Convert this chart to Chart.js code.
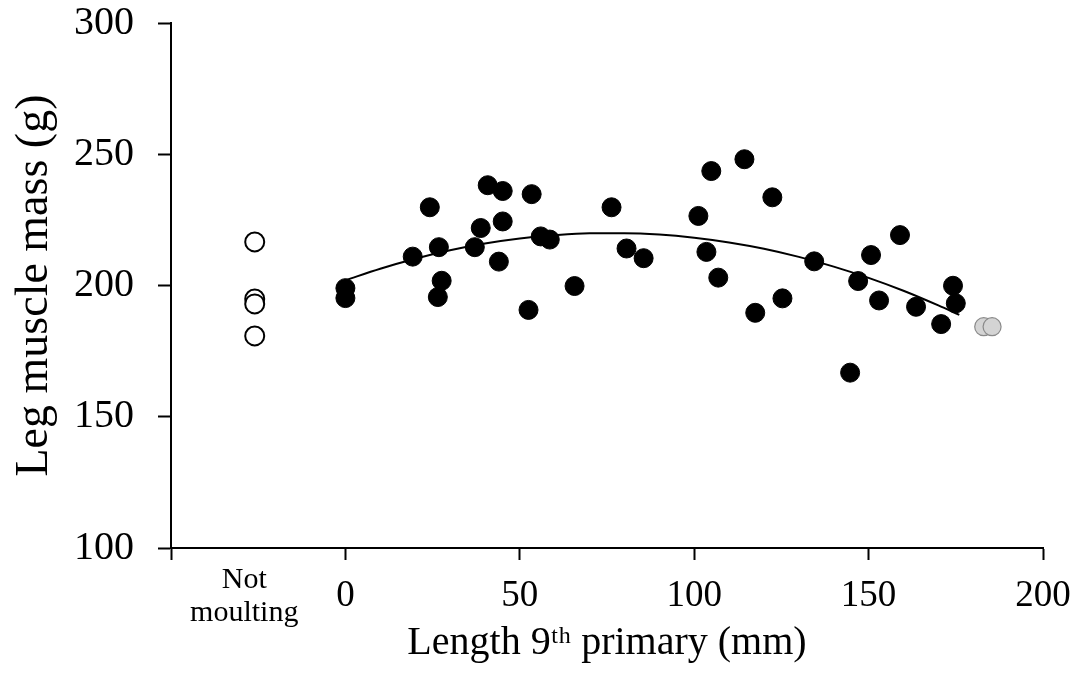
<!DOCTYPE html>
<html>
<head>
<meta charset="utf-8">
<script src="https://cdn.jsdelivr.net/npm/chart.js@4"></script>
<style>
html,body{margin:0;padding:0;background:#fff;}
#wrap{width:1070px;height:673px;position:relative;}
</style>
</head>
<body>
<div id="wrap"><canvas id="c"></canvas></div>
<script>
// Moulting birds: length of 9th primary (mm) vs leg muscle mass (g)
const moultX = [0, 0, 19.3, 24.2, 26.8, 26.5, 27.6, 37.1, 38.8, 40.8, 45.1, 45.1, 44.0, 53.4, 52.5, 56.0, 58.6, 65.7, 76.3, 80.6, 85.5, 101.2, 103.5, 104.9, 106.9, 114.4, 117.5, 122.4, 125.3, 134.4, 144.7, 147.0, 150.7, 153.0, 159.0, 163.6, 170.8, 174.2, 175.0];
const moultY = [199.0, 195.2, 211.0, 229.8, 214.6, 195.6, 201.8, 214.6, 221.9, 238.2, 236.0, 224.4, 209.1, 234.8, 190.7, 218.7, 217.5, 199.8, 229.8, 214.1, 210.4, 226.5, 212.8, 243.6, 203.0, 248.1, 189.6, 233.6, 195.1, 209.2, 166.8, 201.7, 211.6, 194.3, 219.2, 191.9, 185.3, 199.9, 193.2];
// Not-moulting birds (plotted in a separate column left of 0)
const notMoultX = [-26, -26, -26, -26];
const notMoultY = [216.6, 194.9, 193.0, 180.8];
// Grey (stippled) birds at the end of moult
const greyX = [183.0, 185.4];
const greyY = [184.3, 184.3];
// Fitted curve
const trendX = [0, 10, 20, 30, 40, 50, 60, 70, 80, 90, 100, 110, 120, 130, 140, 150, 160, 170, 176];
const trendY = [202.0, 206.4, 210.2, 213.4, 216.0, 217.9, 219.2, 219.9, 219.9, 219.4, 218.2, 216.4, 214.0, 210.9, 207.2, 202.9, 198.0, 192.4, 188.8];
// Axis ticks
const xTickValues = [-50, -29, 0, 50, 100, 150, 200];
const xTickLabels = ['', ['Not', 'moulting'], '0', '50', '100', '150', '200'];
const yTickValues = [100, 150, 200, 250, 300];

const toPts = (xs, ys) => xs.map((x, i) => ({x: x, y: ys[i]}));
const serif = "'Liberation Serif', 'Times New Roman', serif";

new Chart(document.getElementById('c'), {
  type: 'scatter',
  data: {
    datasets: [
      {
        label: 'Trend',
        data: toPts(trendX, trendY),
        showLine: true,
        borderColor: '#000',
        borderWidth: 2,
        pointRadius: 0,
        fill: false,
        cubicInterpolationMode: 'monotone',
        order: 2
      },
      {
        label: 'Moulting',
        data: toPts(moultX, moultY),
        backgroundColor: '#000',
        borderColor: '#000',
        borderWidth: 1,
        pointRadius: 9.5,
        order: 1
      },
      {
        label: 'Not moulting',
        data: toPts(notMoultX, notMoultY),
        backgroundColor: '#fff',
        borderColor: '#000',
        borderWidth: 2,
        pointRadius: 9.5,
        order: 1
      },
      {
        label: 'End of moult',
        data: toPts(greyX, greyY),
        backgroundColor: '#d4d4d4',
        borderColor: '#8a8a8a',
        borderWidth: 1.2,
        pointRadius: 9,
        order: 1
      }
    ]
  },
  options: {
    responsive: true,
    maintainAspectRatio: false,
    animation: false,
    layout: { padding: { top: 23, right: 27, left: 0, bottom: 0 } },
    plugins: { legend: { display: false }, tooltip: { enabled: false } },
    scales: {
      x: {
        type: 'linear',
        min: -50,
        max: 200,
        afterBuildTicks: (s) => { s.ticks = xTickValues.map(v => ({value: v})); },
        afterFit: (s) => { s.height = 125; s.paddingLeft = 0; s.paddingRight = 0; },
        border: { display: true, color: '#000', width: 2 },
        grid: {
          drawOnChartArea: false,
          drawTicks: true,
          tickLength: 12,
          tickWidth: 2,
          tickColor: (ctx) => (ctx.tick && ctx.tick.value === -29) ? 'rgba(0,0,0,0)' : '#000'
        },
        ticks: {
          autoSkip: false,
          maxRotation: 0,
          padding: 20,
          color: '#000',
          crossAlign: 'center',
          font: (ctx) => (ctx.tick && ctx.tick.value === -29)
            ? { family: serif, size: 30, lineHeight: '33px' }
            : { family: serif, size: 37, lineHeight: '33px' },
          callback: (v) => { const i = xTickValues.indexOf(v); return i >= 0 ? xTickLabels[i] : ''; }
        },
        title: {
          display: true,
          text: 'Length 9ᵗʰ primary (mm)',
          color: '#000',
          font: { family: serif, size: 40 },
          padding: { top: 0, bottom: 6 }
        }
      },
      y: {
        type: 'linear',
        min: 100,
        max: 300,
        afterBuildTicks: (s) => { s.ticks = yTickValues.map(v => ({value: v})); },
        afterFit: (s) => { s.width = 171; s.paddingTop = 0; s.paddingBottom = 0; },
        border: { display: true, color: '#000', width: 2 },
        grid: {
          drawOnChartArea: false,
          drawTicks: true,
          tickLength: 13,
          tickWidth: 2,
          tickColor: '#000'
        },
        ticks: {
          padding: 24,
          color: '#000',
          font: { family: serif, size: 40 }
        },
        title: {
          display: true,
          text: 'Leg muscle mass (g)',
          color: '#000',
          font: { family: serif, size: 46 },
          padding: { top: 7, bottom: 0 }
        }
      }
    }
  }
});
</script>
</body>
</html>
